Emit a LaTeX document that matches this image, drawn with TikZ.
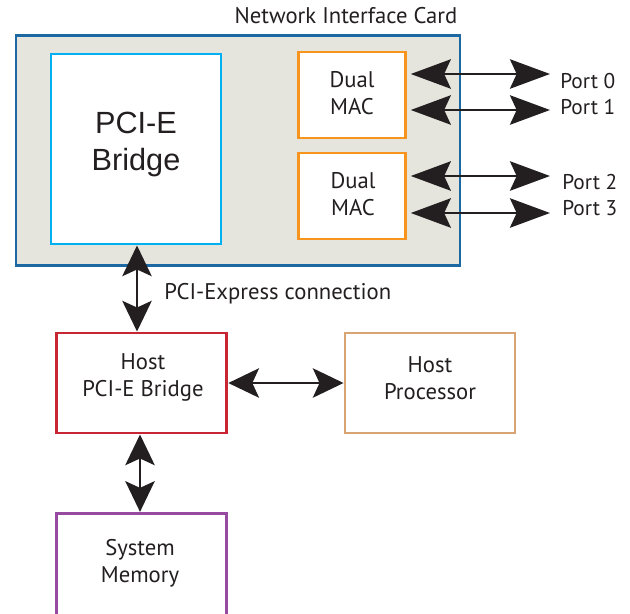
\documentclass[tikz,border=0pt]{standalone}
\usepackage{fontspec}
\setmainfont{PT Sans}
\newfontfamily\helvfont{Liberation Sans}
\usetikzlibrary{arrows.meta, positioning}
\definecolor{nicblue}{RGB}{28, 104, 163}
\definecolor{nicgray}{RGB}{229, 228, 221}
\definecolor{bridgecyan}{RGB}{0, 176, 240}
\definecolor{macorange}{RGB}{247, 148, 30}
\definecolor{hostred}{RGB}{200, 38, 50}
\definecolor{proctan}{RGB}{216, 164, 115}
\definecolor{mempurple}{RGB}{150, 75, 160}
\definecolor{inkblack}{RGB}{35, 31, 32}

\begin{document}
\begin{tikzpicture}[
    x=0.75pt, y=-0.75pt,
    box/.style={rectangle, draw=#1, line width=2.2pt, fill=white, inner sep=0pt},
    lbl/.style={inner sep=0pt, align=center, font=\fontsize{17}{20.25}\selectfont, text=inkblack},
    portlbl/.style={lbl, anchor=west, font=\fontsize{16}{20}\selectfont},
    biarrow/.style={{Stealth[length=#1, width=22pt, inset=5pt]}-{Stealth[length=#1, width=22pt, inset=5pt]},
        line width=2pt, color=inkblack},
    biarrow/.default=23pt
]
    \useasboundingbox (0,0) rectangle (630,613);
    \clip (0,0) rectangle (630,613);

    % card
    \node[lbl] (title) at (346,16) {Network Interface Card};
    \node[box=nicblue, fill=nicgray, minimum width=333pt, minimum height=173pt] (nic) at (238,150.5) {};
    \node[box=bridgecyan, minimum width=127.5pt, minimum height=142.5pt] (bridge) at (136,149) {};
    \node[lbl, font=\helvfont\fontsize{23}{27.75}\selectfont] (bridgetxt) at (136,144) {PCI-E\\Bridge};
    \node[box=macorange, minimum width=80pt, minimum height=64.5pt] (mac1) at (352,95) {};
    \node[lbl] (mac1txt) at (352,93.5) {Dual\\MAC};
    \node[box=macorange, minimum width=80pt, minimum height=64.5pt] (mac2) at (352,196) {};
    \node[lbl] (mac2txt) at (353,194.5) {Dual\\MAC};

    % ports
    \coordinate (p0) at (550,74);
    \coordinate (p1) at (550,110);
    \coordinate (p2) at (550,176);
    \coordinate (p3) at (550,213);
    \node[portlbl] (port0) at (560,81) {Port 0};
    \node[portlbl] (port1) at (560,107) {Port 1};
    \node[portlbl] (port2) at (562,182) {Port 2};
    \node[portlbl] (port3) at (562,208) {Port 3};
    \draw[biarrow=30pt, shorten <=3pt] (mac1.east |- p0) -- (p0);
    \draw[biarrow=30pt, shorten <=3pt] (mac1.east |- p1) -- (p1);
    \draw[biarrow=30pt, shorten <=3pt] (mac2.east |- p2) -- (p2);
    \draw[biarrow=30pt, shorten <=3pt] (mac2.east |- p3) -- (p3);

    % host side
    \node[box=hostred, minimum width=128pt, minimum height=75pt] (hostbr) at (141.5,383) {};
    \node[lbl] (hostbrtxt) at (143,377) {Host\\PCI-E Bridge};
    \node[box=proctan, minimum width=127.5pt, minimum height=75pt] (proc) at (430,383) {};
    \node[lbl] (proctxt) at (430,378) {Host\\Processor};
    \node[box=mempurple, minimum width=128pt, minimum height=100pt] (mem) at (141.5,580) {};
    \node[lbl] (memtxt) at (140,563.5) {System\\Memory};
    \node[lbl, anchor=west] (pcielbl) at (164,294) {PCI-Express connection};

    \draw[biarrow] (bridge.south -| 137,0) -- (hostbr.north -| 137,0);
    \draw[biarrow] (hostbr.east) -- (proc.west);
    \draw[biarrow] (hostbr.south -| 140,0) -- (mem.north -| 140,0);
\end{tikzpicture}
\end{document}
